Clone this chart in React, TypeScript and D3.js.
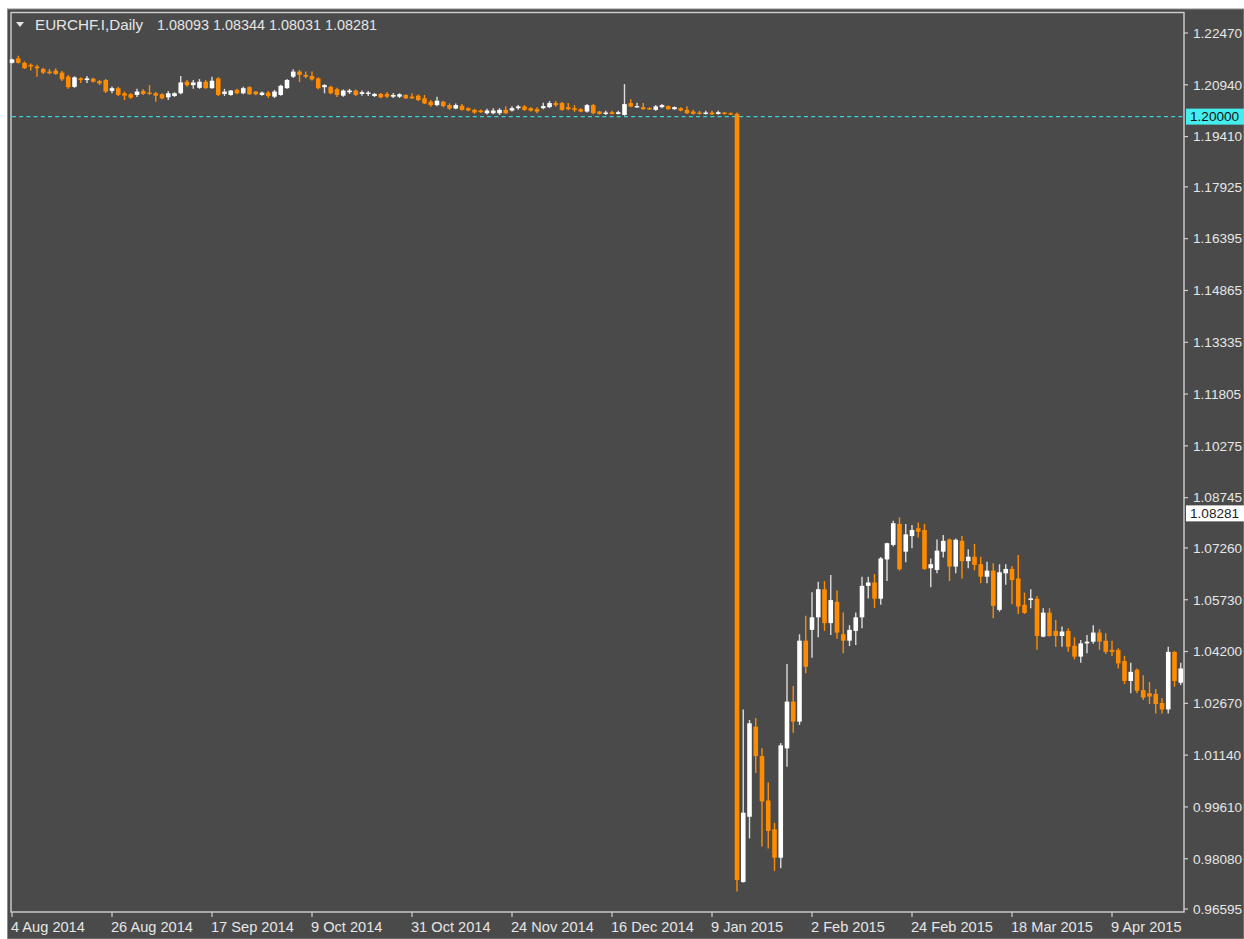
import * as d3 from "d3";

// EURCHF daily, 4 Aug 2014 .. Apr 2015 (one entry per trading bar)
const opens = [
  1.2159, 1.2172, 1.2159, 1.2153, 1.2148, 1.2141, 1.2133, 1.2136, 1.213, 1.2118,
  1.2088, 1.2113, 1.2108, 1.2112, 1.2105, 1.2108, 1.2076, 1.2084, 1.2069, 1.2066,
  1.2064, 1.2076, 1.2071, 1.2069, 1.2066, 1.2057, 1.2061, 1.2069, 1.2103, 1.2093,
  1.2085, 1.2103, 1.2084, 1.2113, 1.2067, 1.2064, 1.2079, 1.2069, 1.2087, 1.2074,
  1.2064, 1.2071, 1.2059, 1.2064, 1.2084, 1.2118, 1.2133, 1.2123, 1.212, 1.2113,
  1.2087, 1.2088, 1.2081, 1.2062, 1.2072, 1.2077, 1.2067, 1.2067, 1.2061, 1.2067,
  1.2067, 1.2059, 1.2059, 1.2064, 1.2059, 1.2062, 1.2054, 1.2044, 1.2034, 1.2044,
  1.2034, 1.2024, 1.2032, 1.2025, 1.202, 1.2018, 1.201, 1.201, 1.201, 1.202,
  1.2018, 1.2025, 1.203, 1.2025, 1.2022, 1.2025, 1.2028, 1.204, 1.204, 1.2028,
  1.2025, 1.2022, 1.2015, 1.2034, 1.2015, 1.2008, 1.2013, 1.2008, 1.2005, 1.204,
  1.2028, 1.2028, 1.2025, 1.202, 1.2028, 1.2031, 1.2022, 1.2025, 1.202, 1.2015,
  1.2012, 1.2008, 1.2012, 1.2008, 1.2012, 1.201, 1.2008, 0.9739, 0.9932, 1.0198,
  1.0111, 0.998, 0.9895, 0.9811, 1.0134, 1.0272, 1.0213, 1.0452, 1.0484, 1.0521,
  1.0604, 1.0504, 1.0567, 1.0471, 1.0452, 1.0481, 1.0521, 1.0614, 1.0624, 1.0576,
  1.0692, 1.0735, 1.0797, 1.0715, 1.0761, 1.0784, 1.0779, 1.0666, 1.0661, 1.0715,
  1.0751, 1.0671, 1.0747, 1.0687, 1.07, 1.0678, 1.0641, 1.0659, 1.0543, 1.0651,
  1.0664, 1.0636, 1.0558, 1.0572, 1.0576, 1.0464, 1.0535, 1.0481, 1.0466, 1.0481,
  1.0437, 1.0405, 1.0444, 1.0449, 1.0476, 1.0452, 1.0425, 1.0425, 1.0392, 1.0333,
  1.0366, 1.0306, 1.0297, 1.0295, 1.0268, 1.0249, 1.0419, 1.0328,
];

const highs = [
  1.2171, 1.218, 1.2163, 1.2157, 1.2153, 1.2144, 1.2141, 1.2143, 1.2135, 1.2123,
  1.2119, 1.2116, 1.212, 1.2115, 1.2108, 1.2111, 1.2089, 1.2088, 1.2074, 1.207,
  1.2082, 1.2081, 1.2093, 1.2073, 1.2069, 1.2076, 1.2072, 1.212, 1.2108, 1.2108,
  1.2111, 1.2108, 1.2118, 1.2116, 1.2082, 1.2079, 1.2082, 1.2088, 1.209, 1.2076,
  1.2074, 1.2076, 1.2079, 1.2094, 1.2111, 1.214, 1.2138, 1.2133, 1.2133, 1.2116,
  1.2096, 1.2091, 1.2085, 1.208, 1.2082, 1.208, 1.2077, 1.2076, 1.207, 1.207,
  1.2073, 1.207, 1.2069, 1.2066, 1.2069, 1.2065, 1.2064, 1.2049, 1.2059, 1.2047,
  1.2039, 1.2039, 1.2037, 1.2027, 1.2023, 1.2021, 1.2023, 1.2025, 1.2025, 1.2031,
  1.2031, 1.2034, 1.2034, 1.2028, 1.2028, 1.2041, 1.2046, 1.2046, 1.2043, 1.204,
  1.2034, 1.2025, 1.2037, 1.2037, 1.2017, 1.2017, 1.2017, 1.2017, 1.2096, 1.2051,
  1.2041, 1.204, 1.2028, 1.2034, 1.2037, 1.2033, 1.203, 1.2028, 1.2031, 1.202,
  1.2017, 1.2017, 1.2017, 1.2017, 1.2014, 1.2012, 1.2012, 1.0249, 1.0218, 1.0224,
  1.0134, 1.0033, 0.9914, 1.015, 1.0383, 1.0318, 1.0471, 1.0526, 1.0595, 1.0626,
  1.0628, 1.0646, 1.06, 1.0535, 1.0498, 1.0535, 1.0641, 1.0641, 1.0649, 1.0699,
  1.0741, 1.0806, 1.0816, 1.0797, 1.0794, 1.0801, 1.0797, 1.0695, 1.0751, 1.0764,
  1.0754, 1.0754, 1.0761, 1.0722, 1.0738, 1.07, 1.0685, 1.0681, 1.0678, 1.0678,
  1.0673, 1.0705, 1.0594, 1.0604, 1.0584, 1.0548, 1.0548, 1.0513, 1.0494, 1.0489,
  1.0462, 1.0454, 1.0469, 1.0498, 1.0486, 1.0474, 1.0452, 1.043, 1.0407, 1.0387,
  1.037, 1.035, 1.033, 1.0309, 1.0282, 1.0434, 1.0421, 1.0387,
];

const lows = [
  1.2157, 1.2157, 1.2141, 1.2136, 1.2118, 1.2126, 1.2125, 1.2124, 1.2105, 1.2082,
  1.2085, 1.2099, 1.2099, 1.2101, 1.2093, 1.207, 1.2069, 1.2061, 1.2049, 1.2053,
  1.2058, 1.2064, 1.2064, 1.2044, 1.2051, 1.2049, 1.2058, 1.2066, 1.2088, 1.2082,
  1.2082, 1.2082, 1.2082, 1.2061, 1.2061, 1.2062, 1.2066, 1.2066, 1.2064, 1.2063,
  1.2062, 1.2055, 1.2055, 1.2062, 1.2082, 1.2114, 1.2102, 1.2113, 1.2107, 1.2081,
  1.2069, 1.2066, 1.2058, 1.2059, 1.2067, 1.2061, 1.2062, 1.2061, 1.2058, 1.2054,
  1.2055, 1.2055, 1.2055, 1.2052, 1.2052, 1.2046, 1.2037, 1.2029, 1.2031, 1.2028,
  1.202, 1.2022, 1.2017, 1.2016, 1.2008, 1.2011, 1.2006, 1.2007, 1.2005, 1.2008,
  1.2015, 1.202, 1.2017, 1.2015, 1.201, 1.2022, 1.2025, 1.2029, 1.2017, 1.2019,
  1.2014, 1.2013, 1.2012, 1.2007, 1.2006, 1.2005, 1.2006, 1.2006, 1.2003, 1.2028,
  1.2026, 1.202, 1.202, 1.2017, 1.2025, 1.202, 1.202, 1.2016, 1.2008, 1.2006,
  1.2006, 1.2006, 1.2005, 1.2006, 1.2006, 1.2005, 0.9711, 0.9738, 0.9868, 1.0061,
  0.9844, 0.9838, 0.9772, 0.978, 1.008, 1.018, 1.0203, 1.0356, 1.0402, 1.0462,
  1.0481, 1.0469, 1.0458, 1.0415, 1.0436, 1.0439, 1.0489, 1.0577, 1.0549, 1.0558,
  1.0628, 1.073, 1.0659, 1.0684, 1.0725, 1.0757, 1.0661, 1.061, 1.0651, 1.0698,
  1.0628, 1.0651, 1.0636, 1.0666, 1.066, 1.0622, 1.0622, 1.0518, 1.0538, 1.0617,
  1.056, 1.0531, 1.0531, 1.0548, 1.0425, 1.0462, 1.0464, 1.0434, 1.0434, 1.0419,
  1.0397, 1.0387, 1.0415, 1.0443, 1.0425, 1.0413, 1.0407, 1.037, 1.0324, 1.0297,
  1.0297, 1.0277, 1.0265, 1.0237, 1.0237, 1.0237, 1.0316, 1.0321,
];

const closes = [
  1.2169, 1.2159, 1.2143, 1.2148, 1.2143, 1.213, 1.2128, 1.2126, 1.211, 1.2087,
  1.2116, 1.2108, 1.2113, 1.2103, 1.2098, 1.2074, 1.2084, 1.2064, 1.2062, 1.2056,
  1.2074, 1.2067, 1.2067, 1.2062, 1.2054, 1.2069, 1.2069, 1.2101, 1.2093, 1.2101,
  1.2103, 1.2084, 1.2106, 1.2064, 1.2074, 1.2077, 1.2069, 1.2084, 1.2066, 1.2066,
  1.2071, 1.2061, 1.2074, 1.2091, 1.2108, 1.2133, 1.2123, 1.2118, 1.211, 1.2084,
  1.2093, 1.2069, 1.2064, 1.2077, 1.2077, 1.2064, 1.2072, 1.2071, 1.2067, 1.2057,
  1.2059, 1.2064, 1.2066, 1.2054, 1.2054, 1.2049, 1.2039, 1.2034, 1.2047, 1.2031,
  1.2024, 1.2034, 1.202, 1.2018, 1.2012, 1.2013, 1.2018, 1.2018, 1.202, 1.201,
  1.2025, 1.203, 1.202, 1.2018, 1.2015, 1.2031, 1.204, 1.2034, 1.202, 1.2022,
  1.202, 1.2015, 1.2034, 1.201, 1.2008, 1.2012, 1.2008, 1.2013, 1.2037, 1.203,
  1.2031, 1.2022, 1.2022, 1.203, 1.2034, 1.2022, 1.2028, 1.2018, 1.201, 1.2008,
  1.2008, 1.2012, 1.2007, 1.2013, 1.2008, 1.2007, 0.9745, 0.9944, 1.0208, 1.0111,
  0.9977, 0.989, 0.9811, 1.0143, 1.0272, 1.0213, 1.0452, 1.0375, 1.0521, 1.0604,
  1.0504, 1.0572, 1.0476, 1.0452, 1.0484, 1.0521, 1.0614, 1.0624, 1.0576, 1.0695,
  1.074, 1.0799, 1.0663, 1.0766, 1.0779, 1.0774, 1.0664, 1.0678, 1.0718, 1.0747,
  1.0671, 1.075, 1.0687, 1.07, 1.0676, 1.0641, 1.0659, 1.0555, 1.0654, 1.0664,
  1.0631, 1.0553, 1.0534, 1.0577, 1.0466, 1.0535, 1.0466, 1.0466, 1.0479, 1.0434,
  1.0405, 1.0444, 1.0449, 1.0476, 1.0449, 1.0419, 1.0419, 1.0385, 1.0333, 1.036,
  1.0304, 1.0284, 1.0287, 1.0265, 1.0249, 1.0419, 1.0333, 1.037,
];

const xTickBars = [0, 16, 32, 48, 64, 80, 96, 112, 128, 144, 160, 176];
const xTickLabels = [
  "4 Aug 2014", "26 Aug 2014", "17 Sep 2014", "9 Oct 2014", "31 Oct 2014", "24 Nov 2014",
  "16 Dec 2014", "9 Jan 2015", "2 Feb 2015", "24 Feb 2015", "18 Mar 2015", "9 Apr 2015",
];
const yTickLabels = [
  "1.22470", "1.20940", "1.19410", "1.17925", "1.16395", "1.14865", "1.13335", "1.11805", "1.10275",
  "1.08745", "1.07260", "1.05730", "1.04200", "1.02670", "1.01140", "0.99610", "0.98080", "0.96595",
];

const chartTitle = "EURCHF.I,Daily";
const lastBarOHLC = ["1.08093", "1.08344", "1.08031", "1.08281"];
const floorLevel = 1.2;
const bidPrice = 1.08281;

const W = 1244;
const H = 939;
const frame = { left: 11, top: 12.5, right: 1184, bottom: 912 };
const FONT = "'Liberation Sans', Arial, sans-serif";
const BG = "#4a4a4a";
const FG = "#e6e6e6";
const BEAR = "#ff8c00";
const BULL = "#ffffff";

export default function App() {
  const x = d3.scaleLinear().domain([0, 16]).range([12, 112]);
  const y = d3.scaleLinear().domain([0.96595, 1.2247]).range([909, 33]);
  const bodyW = 4.6;

  const bars = d3.range(opens.length).map((i) => ({
    i,
    o: opens[i],
    h: highs[i],
    l: lows[i],
    c: closes[i],
  }));

  return (
    <svg
      width={W}
      height={H}
      style={{ position: "absolute", left: 0, top: 0, background: "#fff" }}
      fontFamily={FONT}
    >
      <rect x={7.5} y={9} width={W - 7.5} height={H - 9} fill={BG} stroke="#8c8c8c" strokeWidth={1} />

      {/* plot frame */}
      <rect
        x={frame.left}
        y={frame.top}
        width={frame.right - frame.left}
        height={frame.bottom - frame.top}
        fill="none"
        stroke="#cfcfcf"
        strokeWidth={1.4}
      />

      {/* 1.2000 floor line */}
      <line
        x1={frame.left + 1}
        x2={frame.right}
        y1={y(floorLevel)}
        y2={y(floorLevel)}
        stroke="#3ad4d4"
        strokeWidth={1.3}
        strokeDasharray="4 3.2"
      />

      {/* candles */}
      {bars.map((b) => {
        const up = b.c >= b.o;
        const col = up ? BULL : BEAR;
        const cx = x(b.i);
        const top = y(Math.max(b.o, b.c));
        const bot = y(Math.min(b.o, b.c));
        return (
          <g key={b.i}>
            <line x1={cx} x2={cx} y1={y(b.h)} y2={y(b.l)} stroke={up ? "#dcdcdc" : BEAR} strokeWidth={1.4} />
            <rect x={cx - bodyW / 2} y={top} width={bodyW} height={Math.max(1.3, bot - top)} fill={col} />
          </g>
        );
      })}

      {/* right price axis */}
      {yTickLabels.map((t) => {
        const ty = y(+t);
        return (
          <g key={t}>
            <line x1={frame.right} x2={frame.right + 4} y1={ty} y2={ty} stroke="#cfcfcf" strokeWidth={1.2} />
            <text x={1193} y={ty + 4.8} fontSize={13.6} fill={FG}>
              {t}
            </text>
          </g>
        );
      })}

      <rect x={1186} y={y(floorLevel) - 8} width={W - 1186} height={16} fill="#44eeee" />
      <text x={1190} y={y(floorLevel) + 4.8} fontSize={13.6} fill="#111">
        {floorLevel.toFixed(5)}
      </text>

      <rect x={1186} y={y(bidPrice) - 8} width={W - 1186} height={16} fill="#ffffff" />
      <text x={1190} y={y(bidPrice) + 4.8} fontSize={13.6} fill="#222">
        {bidPrice.toFixed(5)}
      </text>

      {/* time axis */}
      {xTickBars.map((bi, k) => (
        <g key={bi}>
          <line x1={x(bi)} x2={x(bi)} y1={frame.bottom} y2={frame.bottom + 5} stroke="#cfcfcf" strokeWidth={1.2} />
          <text x={x(bi) - 1} y={931.5} fontSize={14.6} fill={FG}>
            {xTickLabels[k]}
          </text>
        </g>
      ))}

      {/* header */}
      <polygon points="16,22 24,22 20,27" fill={FG} />
      <text x={35} y={30} fontSize={15.2} fill={FG}>
        {chartTitle}
      </text>
      <text x={157} y={30} fontSize={14.4} fill={FG}>
        {lastBarOHLC.join(" ")}
      </text>
    </svg>
  );
}
